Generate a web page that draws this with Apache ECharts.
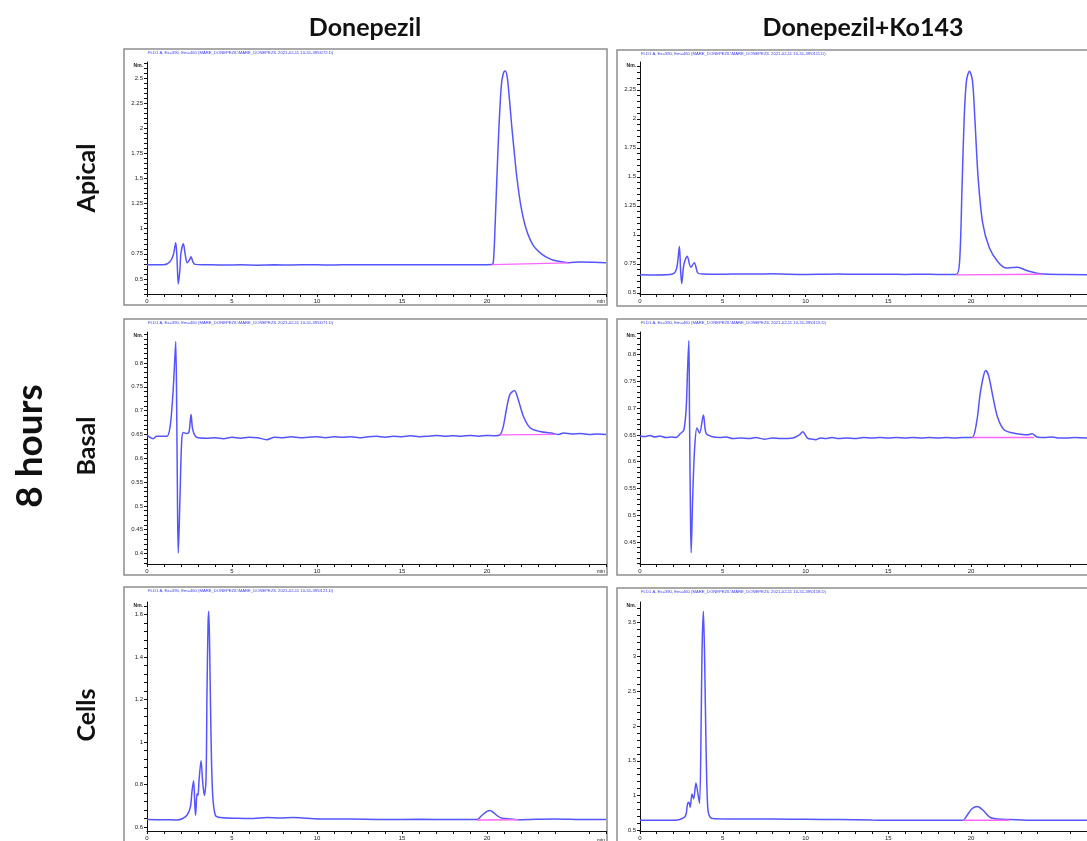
<!DOCTYPE html>
<html>
<head>
<meta charset="utf-8">
<script src="https://cdn.jsdelivr.net/npm/echarts@6/dist/echarts.min.js"></script>
<style>
  html, body { margin: 0; padding: 0; background: #fff; }
  #chart { width: 1087px; height: 841px; }
</style>
</head>
<body>
<div id="chart"></div>
<script>
// retention time (min) / signal (Norm.)
var apicalDonepezil = [
  [0, 0.64], [0.6, 0.642], [1.0, 0.64], [1.35, 0.67], [1.55, 0.74], [1.69, 0.86], [1.76, 0.72],
  [1.84, 0.45], [1.93, 0.58], [2.0, 0.76], [2.14, 0.85], [2.25, 0.74], [2.37, 0.66],
  [2.5, 0.69], [2.59, 0.72], [2.7, 0.67], [2.82, 0.645], [3.5, 0.642], [4.5, 0.638],
  [5.5, 0.64], [6.5, 0.637], [7.5, 0.64], [8.5, 0.639], [9.5, 0.641], [10.5, 0.639],
  [11.5, 0.64], [12.5, 0.641], [13.5, 0.64], [14.5, 0.641], [15.5, 0.64], [16.5, 0.641],
  [17.5, 0.64], [18.5, 0.641], [19.5, 0.641], [20.3, 0.643], [20.38, 0.68], [20.47, 1.0],
  [20.58, 1.5], [20.7, 2.0], [20.84, 2.42], [20.95, 2.54], [21.06, 2.57], [21.18, 2.52],
  [21.3, 2.33], [21.45, 2.03], [21.6, 1.77], [21.75, 1.52], [22.0, 1.22], [22.3, 1.0],
  [22.7, 0.84], [23.2, 0.75], [23.7, 0.7], [24.2, 0.675], [24.8, 0.662], [25.5, 0.668],
  [26.3, 0.665], [27, 0.662]
];
var apicalDonepezilBase = [[20.3, 0.642], [24.8, 0.66]];

var apicalKo143 = [
  [0, 0.655], [1.0, 0.654], [1.97, 0.662], [2.22, 0.715], [2.38, 0.9], [2.45, 0.7],
  [2.52, 0.58], [2.65, 0.744], [2.85, 0.815], [3.07, 0.72], [3.28, 0.76], [3.5, 0.67],
  [3.8, 0.662], [5, 0.66], [6, 0.663], [7, 0.662], [8, 0.664], [9, 0.66], [10, 0.658],
  [11, 0.66], [12, 0.662], [13, 0.66], [14, 0.661], [15, 0.66], [16, 0.659], [17, 0.66],
  [18, 0.659], [19.1, 0.658], [19.3, 0.76], [19.45, 1.4], [19.58, 2.0], [19.72, 2.33],
  [19.9, 2.41], [20.08, 2.33], [20.22, 2.02], [20.42, 1.5], [20.7, 1.1], [21.1, 0.888],
  [21.6, 0.77], [22.1, 0.715], [22.5, 0.718], [22.8, 0.72], [23.4, 0.69], [24.2, 0.664],
  [25.7, 0.658], [27, 0.657]
];
var apicalKo143Base = [[19.1, 0.655], [24.3, 0.66]];

var basalDonepezil = [
  [0, 0.6485], [0.37, 0.641], [0.57, 0.646], [1.16, 0.646], [1.35, 0.664], [1.51, 0.727],
  [1.61, 0.79], [1.69, 0.845], [1.75, 0.692], [1.8, 0.482], [1.84, 0.401], [1.94, 0.517],
  [2.04, 0.636], [2.14, 0.654], [2.33, 0.652], [2.47, 0.655], [2.59, 0.692], [2.69, 0.66],
  [2.92, 0.644], [3.51, 0.642], [4.0, 0.643], [4.5, 0.641], [5.0, 0.644], [5.5, 0.642],
  [6.0, 0.644], [6.5, 0.643], [7.04, 0.639], [7.5, 0.644], [8.0, 0.643], [8.5, 0.645],
  [9.0, 0.643], [9.5, 0.644], [10.0, 0.645], [10.5, 0.643], [11.0, 0.645], [11.5, 0.644],
  [12.0, 0.645], [12.5, 0.643], [13.0, 0.645], [13.5, 0.646], [14.0, 0.644], [14.5, 0.646],
  [15.0, 0.645], [15.5, 0.647], [16.0, 0.645], [16.5, 0.646], [17.0, 0.648], [17.5, 0.646],
  [18.0, 0.647], [18.5, 0.646], [19.0, 0.648], [19.5, 0.646], [20.0, 0.648], [20.4, 0.647],
  [20.76, 0.649], [20.96, 0.667], [21.16, 0.706], [21.35, 0.734], [21.61, 0.742],
  [21.84, 0.723], [22.14, 0.688], [22.53, 0.664], [23.12, 0.656], [23.9, 0.652],
  [24.2, 0.65], [24.5, 0.653], [25.0, 0.651], [25.5, 0.652], [26.0, 0.65], [26.5, 0.651],
  [27, 0.65]
];
var basalDonepezilBase = [[20.76, 0.649], [24.05, 0.65]];

var basalKo143 = [
  [0, 0.648], [0.3, 0.647], [0.59, 0.649], [0.9, 0.646], [1.18, 0.648], [1.57, 0.645],
  [1.9, 0.646], [2.16, 0.645], [2.46, 0.653], [2.65, 0.659], [2.79, 0.7], [2.87, 0.769],
  [2.95, 0.826], [2.99, 0.687], [3.05, 0.5], [3.09, 0.43], [3.18, 0.531], [3.3, 0.625],
  [3.44, 0.663], [3.6, 0.653], [3.83, 0.687], [3.99, 0.653], [4.32, 0.647], [4.8, 0.645],
  [5.2, 0.646], [5.6, 0.643], [6.09, 0.644], [6.6, 0.643], [7.0, 0.645], [7.5, 0.642],
  [8.0, 0.644], [8.5, 0.643], [9.24, 0.644], [9.63, 0.65], [9.83, 0.656], [10.12, 0.644],
  [10.4, 0.642], [10.61, 0.641], [10.9, 0.644], [11.2, 0.643], [11.6, 0.645],
  [12.0, 0.643], [12.5, 0.644], [13.0, 0.643], [13.5, 0.645], [14.0, 0.644], [14.5, 0.645],
  [15.0, 0.644], [15.5, 0.645], [16.0, 0.644], [16.5, 0.645], [17.0, 0.644], [17.5, 0.645],
  [18.0, 0.644], [18.5, 0.645], [19.0, 0.644], [19.5, 0.645], [20.05, 0.645],
  [20.34, 0.675], [20.54, 0.725], [20.74, 0.759], [20.89, 0.77], [21.07, 0.759],
  [21.33, 0.719], [21.62, 0.681], [22.01, 0.659], [22.6, 0.653], [23.0, 0.651],
  [23.39, 0.65], [23.68, 0.652], [23.98, 0.646], [24.4, 0.645], [24.9, 0.646],
  [25.3, 0.644], [25.75, 0.644], [26.3, 0.645], [27, 0.644]
];
var basalKo143Base = [[20.05, 0.645], [23.8, 0.645]];

var cellsDonepezil = [
  [0, 0.635], [1.0, 0.634], [1.76, 0.633], [2.1, 0.64], [2.35, 0.655], [2.55, 0.693],
  [2.65, 0.771], [2.74, 0.818], [2.82, 0.693], [2.86, 0.655], [2.94, 0.756], [3.0, 0.748],
  [3.06, 0.818], [3.18, 0.912], [3.27, 0.818], [3.37, 0.748], [3.47, 0.818], [3.53, 1.239],
  [3.59, 1.55], [3.63, 1.616], [3.68, 1.472], [3.76, 1.052], [3.86, 0.756], [4.02, 0.655],
  [4.31, 0.644], [5.3, 0.641], [6.27, 0.64], [7.06, 0.644], [7.8, 0.642], [8.62, 0.644],
  [9.4, 0.641], [10.2, 0.638], [12.0, 0.637], [14.1, 0.635], [16.0, 0.636], [18.0, 0.635],
  [19.41, 0.635], [19.7, 0.655], [20.0, 0.673], [20.19, 0.678], [20.39, 0.667],
  [20.78, 0.644], [21.37, 0.637], [21.86, 0.634], [23.9, 0.638], [25.9, 0.635], [27, 0.635]
];
var cellsDonepezilBase = [[19.4, 0.633], [21.85, 0.634]];

var cellsKo143 = [
  [0, 0.643], [1.0, 0.644], [2.16, 0.645], [2.65, 0.681], [2.79, 0.739], [2.87, 0.881],
  [2.95, 0.904], [3.03, 0.833], [3.14, 1.024], [3.24, 0.952], [3.38, 1.181], [3.5, 1.024],
  [3.6, 0.89], [3.7, 2.167], [3.75, 3.119], [3.83, 3.653], [3.91, 2.88], [3.99, 1.69],
  [4.09, 0.833], [4.23, 0.69], [4.52, 0.667], [6.0, 0.664], [8.06, 0.662], [10.0, 0.658],
  [11.99, 0.655], [14.0, 0.648], [15.9, 0.643], [19.5, 0.643], [19.75, 0.714],
  [20.05, 0.81], [20.38, 0.843], [20.73, 0.786], [21.12, 0.69], [21.62, 0.661],
  [22.31, 0.655], [23.78, 0.643], [25.75, 0.643], [27, 0.643]
];
var cellsKo143Base = [[19.5, 0.645], [22.3, 0.645]];

// axis labels
var timeLabels = [0, 5, 10, 15, 20, 25];
var apicalDonepezilLabels = [0.5, 0.75, 1, 1.25, 1.5, 1.75, 2, 2.25, 2.5];
var apicalKo143Labels = [0.5, 0.75, 1, 1.25, 1.5, 1.75, 2, 2.25];
var basalDonepezilLabels = [0.4, 0.45, 0.5, 0.55, 0.6, 0.65, 0.7, 0.75, 0.8];
var basalKo143Labels = [0.45, 0.5, 0.55, 0.6, 0.65, 0.7, 0.75, 0.8];
var cellsDonepezilLabels = [0.6, 0.8, 1, 1.2, 1.4, 1.6];
var cellsKo143Labels = [0.5, 1, 1.5, 2, 2.5, 3, 3.5];

var columnTitles = ['Donepezil', 'Donepezil+Ko143'];
var rowTitles = ['Apical', 'Basal', 'Cells'];
var sideTitle = '8 hours';
var headerText = [
  'FLD1 A, Ex=390, Em=460 (MARE_DONEPEZIL\\MARE_DONEPEZIL 2021-02-11 10-51-39\\0072.D)',
  'FLD1 A, Ex=390, Em=460 (MARE_DONEPEZIL\\MARE_DONEPEZIL 2021-02-11 10-51-39\\0111.D)',
  'FLD1 A, Ex=390, Em=460 (MARE_DONEPEZIL\\MARE_DONEPEZIL 2021-02-11 10-51-39\\0071.D)',
  'FLD1 A, Ex=390, Em=460 (MARE_DONEPEZIL\\MARE_DONEPEZIL 2021-02-11 10-51-39\\0115.D)',
  'FLD1 A, Ex=390, Em=460 (MARE_DONEPEZIL\\MARE_DONEPEZIL 2021-02-11 10-51-39\\0121.D)',
  'FLD1 A, Ex=390, Em=460 (MARE_DONEPEZIL\\MARE_DONEPEZIL 2021-02-11 10-51-39\\0118.D)'
];

// panel layout: plot box [left, top, width, height], frame box, y range
var panels = [
  { trace: apicalDonepezil, base: apicalDonepezilBase, labels: apicalDonepezilLabels,
    box: [147, 62, 459, 232], frame: [124, 49, 483, 256], yMin: 0.35, yMax: 2.66 },
  { trace: apicalKo143, base: apicalKo143Base, labels: apicalKo143Labels,
    box: [640, 62, 458, 232], frame: [617, 50, 490, 256], yMin: 0.49, yMax: 2.49 },
  { trace: basalDonepezil, base: basalDonepezilBase, labels: basalDonepezilLabels,
    box: [147, 332, 459, 232], frame: [124, 319, 483, 256], yMin: 0.378, yMax: 0.865 },
  { trace: basalKo143, base: basalKo143Base, labels: basalKo143Labels,
    box: [640, 332, 458, 232], frame: [617, 319, 490, 256], yMin: 0.409, yMax: 0.842 },
  { trace: cellsDonepezil, base: cellsDonepezilBase, labels: cellsDonepezilLabels,
    box: [147, 602, 459, 231], frame: [124, 587, 483, 270], yMin: 0.581, yMax: 1.659 },
  { trace: cellsKo143, base: cellsKo143Base, labels: cellsKo143Labels,
    box: [640, 602, 458, 231], frame: [617, 588, 490, 270], yMin: 0.49, yMax: 3.786 }
];

var tickFont = { fontFamily: 'Liberation Sans Narrow, Liberation Sans, sans-serif', fontSize: 6, color: '#222' };

// minor ticks: five per label step, kept inside the axis range
function minorTicks(labels, lo, hi) {
  var step = (labels[1] - labels[0]) / 5;
  var out = [];
  var start = labels[0] - step * Math.floor((labels[0] - lo) / step);
  for (var v = start; v <= hi + 1e-9; v += step) out.push(+v.toFixed(4));
  return out;
}

var grids = [], xAxes = [], yAxes = [], series = [], graphics = [];

panels.forEach(function (p, i) {
  grids.push({ left: p.box[0], top: p.box[1], width: p.box[2], height: p.box[3], show: false });
  xAxes.push({
    type: 'value', gridIndex: i, min: 0, max: 27,
    axisLine: { lineStyle: { color: '#111', width: 1 } },
    axisTick: { show: true, length: 3, lineStyle: { color: '#111' },
      customValues: minorTicks([0, 5], 0, 27) },
    axisLabel: { customValues: timeLabels, margin: 4, fontFamily: tickFont.fontFamily,
      fontSize: tickFont.fontSize, color: tickFont.color, showMaxLabel: false },
    splitLine: { show: false }
  });
  yAxes.push({
    type: 'value', gridIndex: i, min: p.yMin, max: p.yMax,
    axisLine: { show: true, lineStyle: { color: '#111', width: 1 } },
    axisTick: { show: true, length: 3, lineStyle: { color: '#111' },
      customValues: minorTicks(p.labels, p.yMin, p.yMax) },
    axisLabel: { customValues: p.labels, margin: 4, fontFamily: tickFont.fontFamily,
      fontSize: tickFont.fontSize, color: tickFont.color },
    splitLine: { show: false }
  });
  series.push({
    type: 'line', xAxisIndex: i, yAxisIndex: i, data: p.base, showSymbol: false,
    lineStyle: { color: '#ff66ff', width: 1.4 }, z: 3, animation: false
  });
  series.push({
    type: 'line', xAxisIndex: i, yAxisIndex: i, data: p.trace, showSymbol: false,
    smooth: 0.3, lineStyle: { color: '#5555ff', width: 1.5 }, z: 2, animation: false
  });

  graphics.push({
    type: 'rect', shape: { x: p.frame[0], y: p.frame[1], width: p.frame[2], height: p.frame[3] },
    style: { fill: 'none', stroke: '#8f8f8f', lineWidth: 1.5 }, z: 0
  });
  graphics.push({
    type: 'text', x: p.box[0] + 1, y: p.frame[1] + 2,
    style: { text: headerText[i], fill: '#3a3aff', font: '4.2px "Liberation Sans Narrow", sans-serif',
      textVerticalAlign: 'top' }
  });
  graphics.push({
    type: 'text', x: p.box[0] - 4, y: p.box[1] + 4,
    style: { text: 'Nm.', fill: '#222', font: 'bold 5px "Liberation Sans Narrow", sans-serif',
      textAlign: 'right', textVerticalAlign: 'middle' }
  });
  graphics.push({
    type: 'text', x: p.box[0] + 459 - 1, y: p.box[1] + p.box[3] + 8,
    style: { text: 'min', fill: '#222', font: '5px "Liberation Sans Narrow", sans-serif',
      textAlign: 'right', textVerticalAlign: 'middle' }
  });
});

var titleFont = 'bold 25px Lato, "Open Sans", sans-serif';
graphics.push({ type: 'text', x: 365, y: 28,
  style: { text: columnTitles[0], font: titleFont, fill: '#111', textAlign: 'center', textVerticalAlign: 'middle' } });
graphics.push({ type: 'text', x: 863, y: 28,
  style: { text: columnTitles[1], font: titleFont, fill: '#111', textAlign: 'center', textVerticalAlign: 'middle' } });
[178, 446, 715].forEach(function (cy, r) {
  graphics.push({ type: 'text', x: 87, y: cy, rotation: Math.PI / 2,
    style: { text: rowTitles[r], font: titleFont, fill: '#111', textAlign: 'center', textVerticalAlign: 'middle' } });
});
graphics.push({ type: 'text', x: 30, y: 446, rotation: Math.PI / 2,
  style: { text: sideTitle, font: 'bold 37px Lato, "Open Sans", sans-serif', fill: '#111',
    textAlign: 'center', textVerticalAlign: 'middle' } });

var myChart = echarts.init(document.getElementById('chart'), null, { renderer: 'canvas' });
myChart.setOption({
  backgroundColor: '#fff',
  animation: false,
  grid: grids,
  xAxis: xAxes,
  yAxis: yAxes,
  series: series,
  graphic: graphics
});
</script>
</body>
</html>
